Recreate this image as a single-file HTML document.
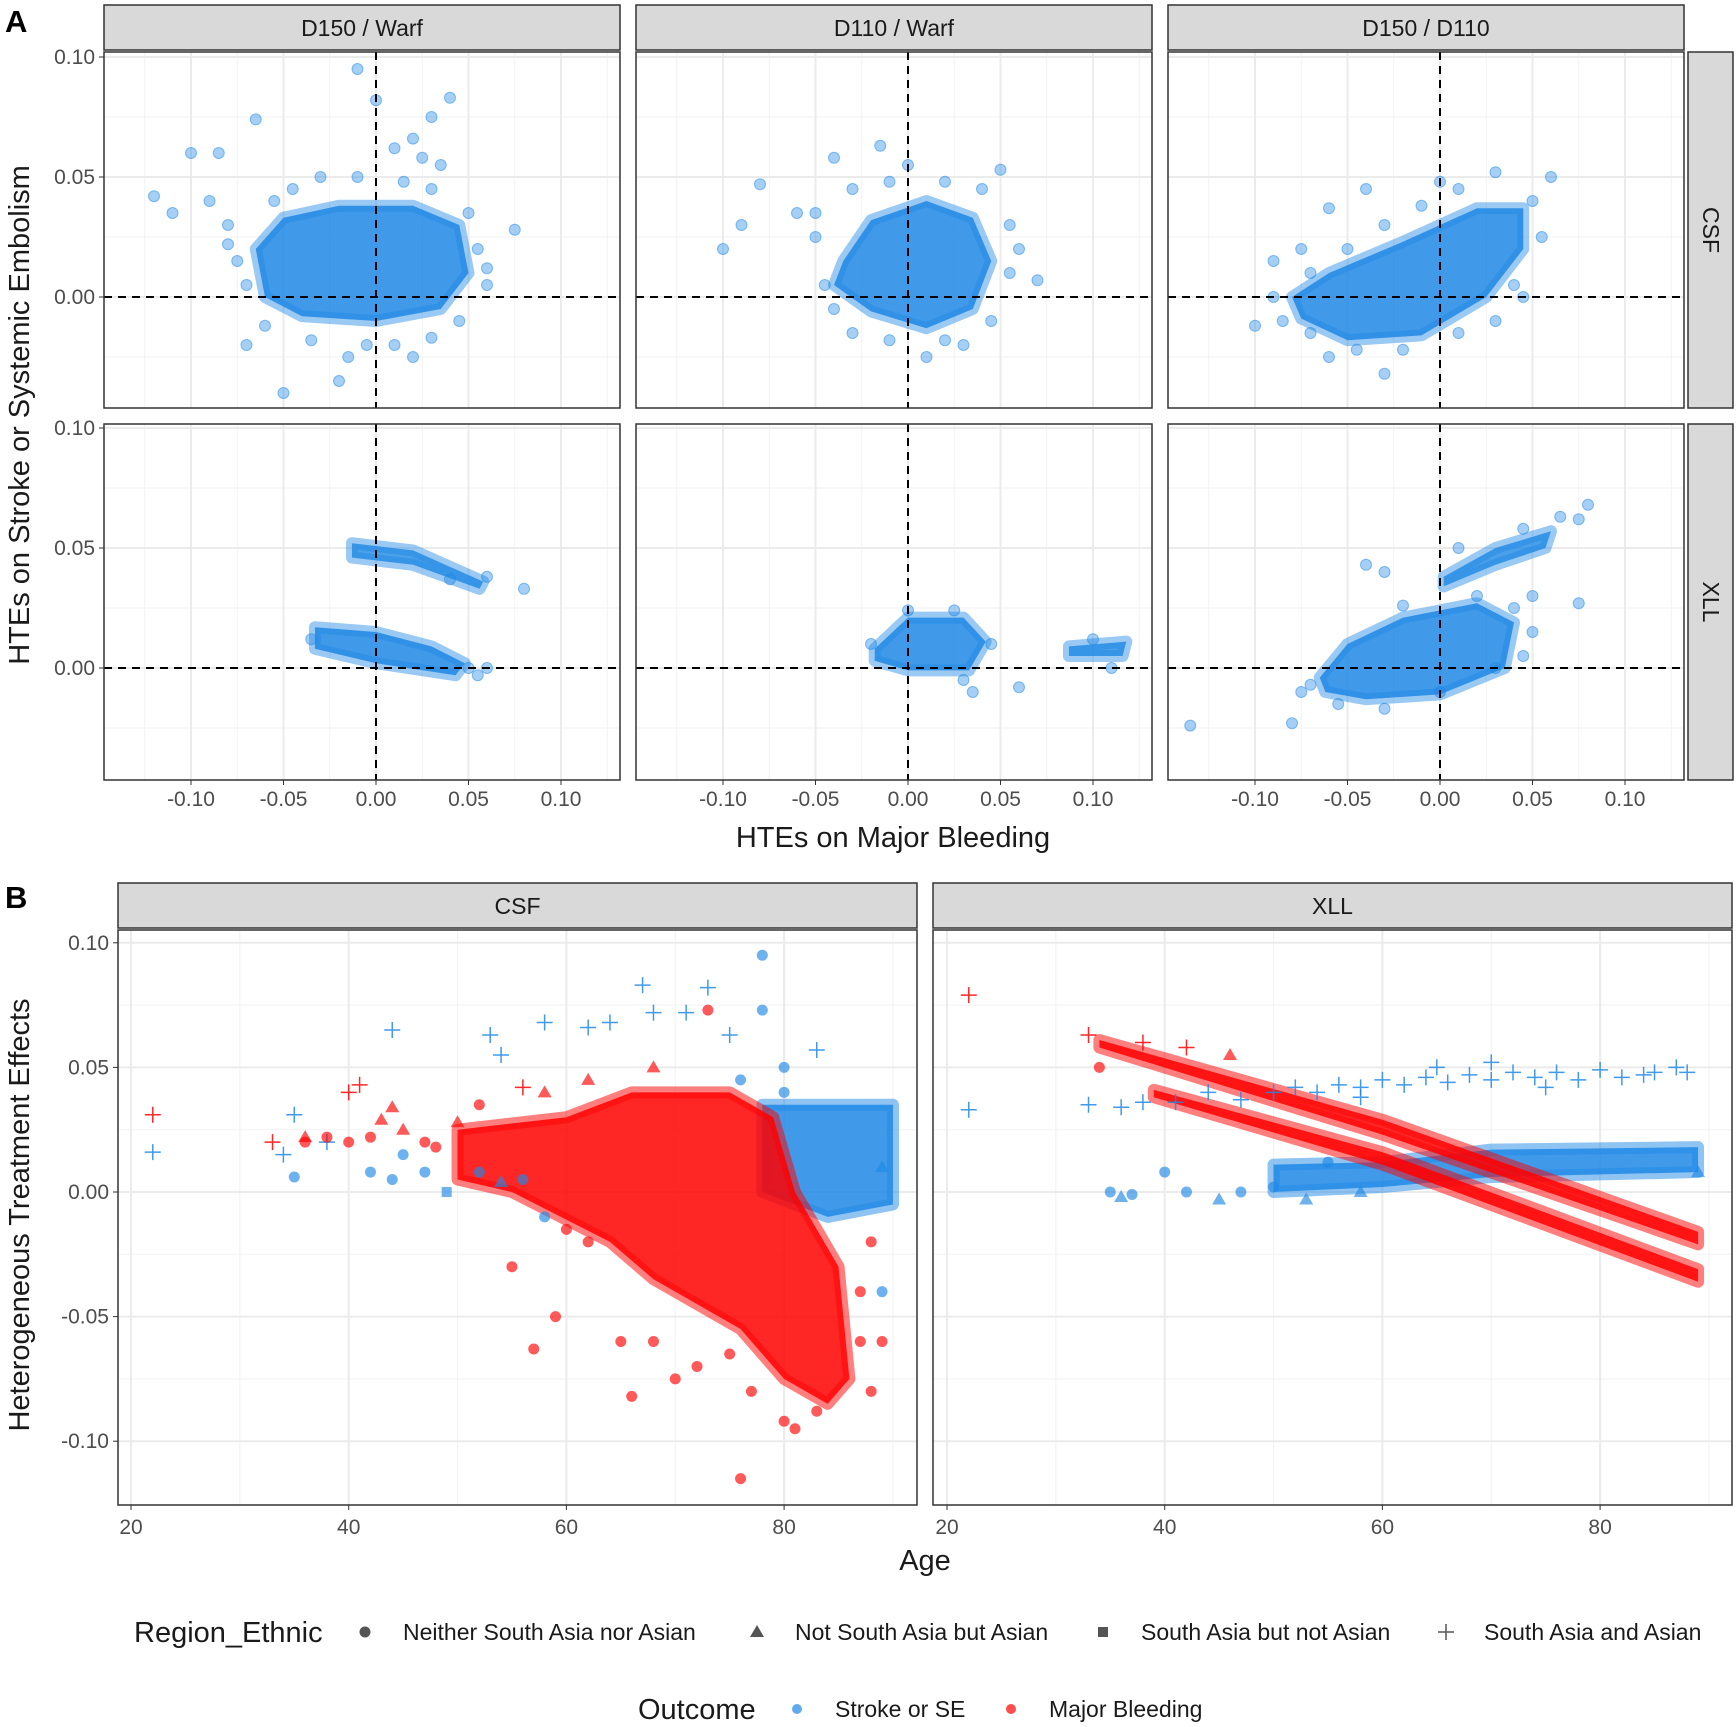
<!DOCTYPE html>
<html><head><meta charset="utf-8"><style>
body{margin:0;background:#fff}
svg{display:block;font-family:"Liberation Sans",sans-serif}
</style></head><body>
<svg id="c" width="1736" height="1727" viewBox="0 0 1736 1727" xmlns="http://www.w3.org/2000/svg"></svg>
<script>
// ---------- DATA ----------
const aRegions = [
 [ [[-0.065,0.02],[-0.05,0.033],[-0.02,0.038],[0.02,0.038],[0.045,0.03],[0.05,0.01],[0.035,-0.005],[0.0,-0.01],[-0.04,-0.008],[-0.06,0.0]],
   [[-0.035,0.015],[-0.02,0.032],[0.01,0.04],[0.035,0.033],[0.045,0.015],[0.035,-0.005],[0.01,-0.013],[-0.02,-0.006],[-0.04,0.005]],
   [[-0.08,0.0],[-0.06,0.01],[-0.02,0.023],[0.02,0.037],[0.045,0.037],[0.045,0.02],[0.025,0.0],[-0.01,-0.016],[-0.05,-0.018],[-0.075,-0.009]] ],
 [ [[-0.033,0.017],[0.0,0.015],[0.03,0.009],[0.048,0.002],[0.043,-0.003],[0.0,0.002],[-0.033,0.008]],
   [[-0.018,0.008],[0.0,0.021],[0.03,0.021],[0.042,0.011],[0.033,-0.001],[0.0,-0.001],[-0.018,0.003]],
   [[-0.065,-0.004],[-0.05,0.01],[-0.02,0.021],[0.02,0.027],[0.04,0.019],[0.035,0.0],[0.0,-0.011],[-0.04,-0.013],[-0.062,-0.01]] ]
];
const aBands = [
 [1,0,[[-0.013,0.052],[0.02,0.049],[0.058,0.036],[0.056,0.033],[0.02,0.043],[-0.013,0.046]]],
 [1,1,[[0.087,0.009],[0.118,0.011],[0.116,0.005],[0.087,0.005]]],
 [1,2,[[0.002,0.038],[0.03,0.05],[0.06,0.057],[0.057,0.05],[0.03,0.043],[0.002,0.034]]]
];
const aPoints = [
 [0,0,-0.12,0.042],[0,0,-0.1,0.06],[0,0,-0.085,0.06],[0,0,-0.065,0.074],[0,0,-0.11,0.035],[0,0,-0.07,-0.02],[0,0,-0.05,-0.04],[0,0,-0.02,-0.035],[0,0,-0.015,-0.025],[0,0,0.0,0.082],[0,0,-0.01,0.095],[0,0,0.01,0.062],[0,0,0.02,0.066],[0,0,0.03,0.075],[0,0,0.04,0.083],[0,0,0.035,0.055],[0,0,0.075,0.028],[0,0,0.06,0.005],[0,0,0.02,-0.025],[0,0,0.01,-0.02],[0,0,-0.03,0.05],[0,0,0.05,0.035],
 [0,0,-0.09,0.04],[0,0,-0.08,0.03],[0,0,-0.075,0.015],[0,0,-0.08,0.022],[0,0,-0.07,0.005],[0,0,-0.06,-0.012],[0,0,-0.045,0.045],[0,0,-0.035,-0.018],[0,0,-0.01,0.05],[0,0,0.015,0.048],[0,0,0.03,0.045],[0,0,0.055,0.02],[0,0,0.06,0.012],[0,0,0.045,-0.01],[0,0,0.03,-0.017],[0,0,-0.005,-0.02],[0,0,-0.055,0.04],[0,0,0.025,0.058],
 [0,1,-0.1,0.02],[0,1,-0.08,0.047],[0,1,-0.06,0.035],[0,1,-0.04,0.058],[0,1,-0.015,0.063],[0,1,0.0,0.055],[0,1,0.05,0.053],[0,1,0.06,0.02],[0,1,0.01,-0.025],[0,1,-0.03,-0.015],[0,1,0.03,-0.02],[0,1,0.07,0.007],[0,1,-0.09,0.03],
 [0,1,-0.05,0.025],[0,1,-0.045,0.005],[0,1,-0.05,0.035],[0,1,-0.03,0.045],[0,1,-0.01,0.048],[0,1,0.02,0.048],[0,1,0.04,0.045],[0,1,0.055,0.03],[0,1,0.055,0.01],[0,1,0.045,-0.01],[0,1,0.02,-0.018],[0,1,-0.01,-0.018],[0,1,-0.04,-0.005],
 [0,2,-0.1,-0.012],[0,2,-0.09,0.015],[0,2,-0.075,0.02],[0,2,-0.06,0.037],[0,2,-0.04,0.045],[0,2,-0.03,-0.032],[0,2,0.0,0.048],[0,2,0.03,0.052],[0,2,0.06,0.05],[0,2,0.045,0.0],[0,2,-0.06,-0.025],[0,2,0.03,-0.01],
 [0,2,-0.09,0.0],[0,2,-0.085,-0.01],[0,2,-0.07,0.01],[0,2,-0.05,0.02],[0,2,-0.03,0.03],[0,2,-0.01,0.038],[0,2,0.01,0.045],[0,2,0.05,0.04],[0,2,0.055,0.025],[0,2,0.04,0.005],[0,2,0.01,-0.015],[0,2,-0.02,-0.022],[0,2,-0.045,-0.022],[0,2,-0.07,-0.015],
 [1,0,0.08,0.033],[1,0,0.06,0.0],[1,0,0.055,-0.003],[1,0,-0.035,0.012],[1,0,0.05,0.0],[1,0,0.04,0.037],[1,0,0.06,0.038],
 [1,1,0.06,-0.008],[1,1,0.035,-0.01],[1,1,-0.02,0.01],[1,1,0.11,0.0],[1,1,0.045,0.01],[1,1,0.03,-0.005],[1,1,0.0,0.024],[1,1,0.025,0.024],[1,1,0.1,0.012],
 [1,2,-0.135,-0.024],[1,2,-0.08,-0.023],[1,2,-0.075,-0.01],[1,2,0.08,0.068],[1,2,0.075,0.062],[1,2,0.075,0.027],[1,2,0.05,0.03],[1,2,0.05,0.015],[1,2,0.045,0.005],[1,2,-0.04,0.043],[1,2,-0.03,0.04],
 [1,2,-0.07,-0.007],[1,2,-0.055,-0.015],[1,2,-0.03,-0.017],[1,2,0.0,-0.01],[1,2,0.03,0.0],[1,2,0.04,0.025],[1,2,0.02,0.03],[1,2,-0.02,0.026],[1,2,0.065,0.063],[1,2,0.045,0.058],[1,2,0.01,0.05]
];
const bRegions = [
 [0,'blue',[[78,0.035],[90,0.035],[90,-0.005],[84,-0.01],[78,0.0]]],
 [0,'red',[[50,0.025],[60,0.03],[66,0.04],[75,0.04],[79,0.03],[81,0.0],[85,-0.03],[86,-0.075],[84,-0.085],[80,-0.075],[76,-0.055],[68,-0.035],[64,-0.02],[55,0.0],[50,0.005]]],
 [1,'blue',[[50,0.011],[60,0.012],[70,0.017],[89,0.018],[89,0.008],[70,0.006],[60,0.002],[50,0.0]]],
 [1,'red',[[34,0.061],[60,0.029],[89,-0.016],[89,-0.021],[60,0.023],[34,0.058]]],
 [1,'red',[[39,0.041],[60,0.016],[89,-0.031],[89,-0.036],[60,0.011],[39,0.038]]]
];
const bPoints = [
 [0,22,0.031,'p','r'],[0,22,0.016,'p','b'],[0,33,0.02,'p','r'],[0,34,0.015,'p','b'],[0,35,0.031,'p','b'],[0,35,0.006,'c','b'],[0,36,0.022,'t','r'],[0,38,0.02,'p','b'],[0,40,0.04,'p','r'],[0,41,0.043,'p','r'],[0,43,0.029,'t','r'],[0,44,0.034,'t','r'],[0,44,0.065,'p','b'],[0,42,0.008,'c','b'],[0,45,0.015,'c','b'],[0,47,0.008,'c','b'],[0,48,0.018,'c','r'],[0,49,0.0,'s','b'],[0,53,0.063,'p','b'],[0,54,0.055,'p','b'],[0,58,0.068,'p','b'],[0,58,0.04,'t','r'],[0,57,-0.063,'c','r'],[0,59,-0.05,'c','r'],[0,55,-0.03,'c','r'],[0,62,0.066,'p','b'],[0,64,0.068,'p','b'],[0,67,0.083,'p','b'],[0,68,0.072,'p','b'],[0,71,0.072,'p','b'],[0,73,0.082,'p','b'],[0,73,0.073,'c','r'],[0,75,0.063,'p','b'],[0,78,0.095,'c','b'],[0,78,0.073,'c','b'],[0,80,0.05,'c','b'],[0,83,0.057,'p','b'],[0,76,-0.115,'c','r'],[0,81,-0.095,'c','r'],[0,83,-0.088,'c','r'],[0,70,-0.075,'c','r'],[0,66,-0.082,'c','r'],[0,89,-0.06,'c','r'],[0,89,0.01,'t','b'],[0,89,-0.04,'c','b'],
 [0,36,0.02,'c','r'],[0,38,0.022,'c','r'],[0,40,0.02,'c','r'],[0,42,0.022,'c','r'],[0,45,0.025,'t','r'],[0,47,0.02,'c','r'],[0,44,0.005,'c','b'],[0,52,0.008,'c','b'],[0,54,0.004,'t','b'],[0,56,0.005,'c','b'],[0,58,-0.01,'c','b'],[0,60,-0.015,'c','r'],[0,62,-0.02,'c','r'],[0,65,-0.06,'c','r'],[0,68,-0.06,'c','r'],[0,72,-0.07,'c','r'],[0,75,-0.065,'c','r'],[0,77,-0.08,'c','r'],[0,80,-0.092,'c','r'],[0,87,-0.06,'c','r'],[0,88,-0.08,'c','r'],[0,87,-0.04,'c','r'],[0,88,-0.02,'c','r'],[0,80,0.04,'c','b'],[0,76,0.045,'c','b'],[0,62,0.045,'t','r'],[0,68,0.05,'t','r'],[0,56,0.042,'p','r'],[0,52,0.035,'c','r'],[0,50,0.028,'t','r'],
 [1,22,0.079,'p','r'],[1,22,0.033,'p','b'],[1,33,0.063,'p','r'],[1,34,0.05,'c','r'],[1,33,0.035,'p','b'],[1,35,0.0,'c','b'],[1,36,-0.002,'t','b'],[1,37,-0.001,'c','b'],[1,40,0.008,'c','b'],[1,42,0.0,'c','b'],[1,45,-0.003,'t','b'],[1,47,0.0,'c','b'],[1,85,0.048,'p','b'],[1,88,0.048,'p','b'],[1,89,0.008,'t','b'],
 [1,36,0.034,'p','b'],[1,38,0.036,'p','b'],[1,41,0.036,'p','b'],[1,44,0.04,'p','b'],[1,47,0.037,'p','b'],[1,50,0.04,'p','b'],[1,52,0.042,'p','b'],[1,54,0.04,'p','b'],[1,56,0.043,'p','b'],[1,58,0.042,'p','b'],[1,60,0.045,'p','b'],[1,62,0.043,'p','b'],[1,64,0.046,'p','b'],[1,66,0.044,'p','b'],[1,68,0.047,'p','b'],[1,70,0.045,'p','b'],[1,72,0.048,'p','b'],[1,74,0.046,'p','b'],[1,76,0.048,'p','b'],[1,78,0.045,'p','b'],[1,80,0.049,'p','b'],[1,82,0.046,'p','b'],[1,84,0.047,'p','b'],[1,87,0.05,'p','b'],[1,65,0.05,'p','b'],[1,75,0.042,'p','b'],[1,58,0.038,'p','b'],[1,70,0.052,'p','b'],
 [1,50,0.002,'c','b'],[1,53,-0.003,'t','b'],[1,58,0.0,'t','b'],[1,55,0.012,'c','b'],[1,38,0.06,'p','r'],[1,42,0.058,'p','r'],[1,46,0.055,'t','r']
];
const aXTicks=[-0.10,-0.05,0.00,0.05,0.10], aYTicks=[0.10,0.05,0.00];
const bXTicks=[20,40,60,80], bYTicks=[0.10,0.05,0.00,-0.05,-0.10];
const aColLabels=['D150 / Warf','D110 / Warf','D150 / D110'], aRowLabels=['CSF','XLL'], bLabels=['CSF','XLL'];

// ---------- DRAW ----------
const NS='http://www.w3.org/2000/svg', svg=document.getElementById('c');
function mk(t,a,p){const e=document.createElementNS(NS,t);for(const k in a)e.setAttribute(k,a[k]);(p||svg).appendChild(e);return e;}
function txt(x,y,s,size,anchor,extra){const e=mk('text',Object.assign({x:x,y:y,'font-size':size,'text-anchor':anchor||'middle',fill:'#1a1a1a'},extra||{}));e.textContent=s;return e;}
const BLUE='#1E88E5',RED='#FF0000';
const fmt=v=>v.toFixed(2);
const TK=21;

const AX=c=>(v=>376+532*c+v*1850), AY=r=>(v=>297+371*r-v*2400);
const aPX=[104,636,1168], aW=516, aPY=[52,424], aH=356;
for(let r=0;r<2;r++)for(let c=0;c<3;c++){
 const g=mk('g',{});
 
 
 const x=AX(c),y=AY(r);
 mk('rect',{x:aPX[c],y:aPY[r],width:aW,height:aH,fill:'#fff'},g);
 for(let v=-0.125;v<=0.13;v+=0.05) mk('line',{x1:x(v),x2:x(v),y1:aPY[r],y2:aPY[r]+aH,stroke:'#f2f2f2','stroke-width':1},g);
 for(const v of [0.075,0.025,-0.025]) mk('line',{x1:aPX[c],x2:aPX[c]+aW,y1:y(v),y2:y(v),stroke:'#f2f2f2','stroke-width':1},g);
 for(const v of aXTicks) mk('line',{x1:x(v),x2:x(v),y1:aPY[r],y2:aPY[r]+aH,stroke:'#ebebeb','stroke-width':2},g);
 for(const v of aYTicks) mk('line',{x1:aPX[c],x2:aPX[c]+aW,y1:y(v),y2:y(v),stroke:'#ebebeb','stroke-width':2},g);
 {const reg=aRegions[r][c];const p=mk('polygon',{points:reg.map(q=>x(q[0])+','+y(q[1])).join(' '),fill:BLUE,'fill-opacity':0.85,stroke:BLUE,'stroke-width':12,'stroke-opacity':0.45,'stroke-linejoin':'round'},g);}
 for(const b of aBands) if(b[0]===r&&b[1]===c){const p=mk('polygon',{points:b[2].map(q=>x(q[0])+','+y(q[1])).join(' '),fill:BLUE,'fill-opacity':0.8,stroke:BLUE,'stroke-width':12,'stroke-opacity':0.45,'stroke-linejoin':'round'},g);}
 for(const p of aPoints) if(p[0]===r&&p[1]===c){const e=mk('circle',{cx:x(p[2]),cy:y(p[3]),r:5.5,fill:BLUE,'fill-opacity':0.4,stroke:BLUE,'stroke-opacity':0.5},g);}
 mk('line',{x1:x(0),x2:x(0),y1:aPY[r],y2:aPY[r]+aH,stroke:'#000','stroke-width':2,'stroke-dasharray':'8,6'},g);
 mk('line',{x1:aPX[c],x2:aPX[c]+aW,y1:y(0),y2:y(0),stroke:'#000','stroke-width':2,'stroke-dasharray':'8,6'},g);
 if(c===0){for(const v of aYTicks){mk('line',{x1:aPX[c]-5,x2:aPX[c],y1:y(v),y2:y(v),stroke:'#333'});const t=txt(aPX[c]-9,y(v)+7,fmt(v),TK,'end',{fill:'#4d4d4d'});}}
 if(r===1){for(const v of aXTicks){mk('line',{x1:x(v),x2:x(v),y1:aPY[r]+aH,y2:aPY[r]+aH+5,stroke:'#333'});const t=txt(x(v),806,fmt(v),TK,'middle',{fill:'#4d4d4d'});}}
}
for(let c=0;c<3;c++){const s=mk('rect',{x:aPX[c],y:5,width:aW,height:45,fill:'#d9d9d9',stroke:'#333','stroke-width':1.5});const t=txt(aPX[c]+aW/2,36,aColLabels[c],23);}
for(let r=0;r<2;r++){const s=mk('rect',{x:1688,y:aPY[r],width:45,height:aH,fill:'#d9d9d9',stroke:'#333','stroke-width':1.5});const t=txt(0,0,aRowLabels[r],23,'middle',{transform:'translate(1703,'+(aPY[r]+aH/2)+') rotate(90)'});}
for(let c=0;c<3;c++)for(let r=0;r<2;r++) mk('rect',{x:aPX[c],y:aPY[r],width:aW,height:aH,fill:'none',stroke:'#333','stroke-width':1.5});
let t;
t=txt(893,847,'HTEs on Major Bleeding',29);
t=txt(0,0,'HTEs on Stroke or Systemic Embolism',29,'middle',{transform:'translate(29,415) rotate(-90)'});
t=txt(5,32,'A',31,'start',{'font-weight':'bold',fill:'#000'});
t=txt(5,908,'B',31,'start',{'font-weight':'bold',fill:'#000'});

const BX=f=>(a=>131+816*f+(a-20)*10.885), BY=v=>1192-v*2492;
const bPX=[118,933], bW=799, bPY=930, bH=575;
function shape(g,s,cx,cy,col,op){let e;
 if(s==='c') e=mk('circle',{cx:cx,cy:cy,r:5.5,fill:col,'fill-opacity':op},g);
 else if(s==='t') e=mk('polygon',{points:`${cx},${cy-7} ${cx-7},${cy+5} ${cx+7},${cy+5}`,fill:col,'fill-opacity':op},g);
 else if(s==='s') e=mk('rect',{x:cx-5,y:cy-5,width:10,height:10,fill:col,'fill-opacity':op},g);
 else e=mk('path',{d:`M${cx-8} ${cy}H${cx+8}M${cx} ${cy-8}V${cy+8}`,stroke:col,'stroke-width':1.5,'stroke-opacity':Math.min(1,op+0.2),fill:'none'},g);
 return e;}
for(let f=0;f<2;f++){
 const g=mk('g',{});
 
 
 const x=BX(f);
 for(const a of [30,50,70,90]) mk('line',{x1:x(a),x2:x(a),y1:bPY,y2:bPY+bH,stroke:'#f2f2f2'},g);
 for(const v of [0.075,0.025,-0.025,-0.075]) mk('line',{x1:bPX[f],x2:bPX[f]+bW,y1:BY(v),y2:BY(v),stroke:'#f2f2f2'},g);
 for(const a of bXTicks) mk('line',{x1:x(a),x2:x(a),y1:bPY,y2:bPY+bH,stroke:'#ebebeb','stroke-width':2},g);
 for(const v of bYTicks) mk('line',{x1:bPX[f],x2:bPX[f]+bW,y1:BY(v),y2:BY(v),stroke:'#ebebeb','stroke-width':2},g);
 for(const reg of bRegions) if(reg[0]===f){const col=reg[1]==='blue'?BLUE:RED;const p=mk('polygon',{points:reg[2].map(q=>x(q[0])+','+BY(q[1])).join(' '),fill:col,'fill-opacity':0.85,stroke:col,'stroke-width':12,'stroke-opacity':0.5,'stroke-linejoin':'round'},g);}
 for(const p of bPoints) if(p[0]===f){const e=shape(g,p[3],x(p[1]),BY(p[2]),p[4]==='b'?BLUE:RED,0.65);}
 mk('rect',{x:bPX[f],y:bPY,width:bW,height:bH,fill:'none',stroke:'#333','stroke-width':1.5},g);
 const s=mk('rect',{x:bPX[f],y:883,width:bW,height:45,fill:'#d9d9d9',stroke:'#333','stroke-width':1.5});
 t=txt(bPX[f]+bW/2,914,bLabels[f],23);
 for(const a of bXTicks){mk('line',{x1:x(a),x2:x(a),y1:bPY+bH,y2:bPY+bH+5,stroke:'#333'});t=txt(x(a),1534,String(a),TK,'middle',{fill:'#4d4d4d'});}
 if(f===0)for(const v of bYTicks){mk('line',{x1:bPX[f]-5,x2:bPX[f],y1:BY(v),y2:BY(v),stroke:'#333'});t=txt(bPX[f]-9,BY(v)+7,fmt(v),TK,'end',{fill:'#4d4d4d'});}
}
t=txt(925,1570,'Age',29);
t=txt(0,0,'Heterogeneous Treatment Effects',29,'middle',{transform:'translate(29,1215) rotate(-90)'});

t=txt(134,1642,'Region_Ethnic',29,'start');
const regLeg=[['c',365,'Neither South Asia nor Asian'],['t',757,'Not South Asia but Asian'],['s',1103,'South Asia but not Asian'],['p',1446,'South Asia and Asian']];
for(const l of regLeg){const g=mk('g',{});shape(g,l[0],l[1],1632,'#555',1);g.appendChild(txt(l[1]+38,1640,l[2],23,'start'));}
t=txt(638,1719,'Outcome',29,'start');
const outLeg=[[797,BLUE,'Stroke or SE'],[1011,RED,'Major Bleeding']];
for(const l of outLeg){const g=mk('g',{});mk('circle',{cx:l[0],cy:1709,r:5,fill:l[1],'fill-opacity':0.7},g);g.appendChild(txt(l[0]+38,1717,l[2],23,'start'));}
</script>
</body></html>
